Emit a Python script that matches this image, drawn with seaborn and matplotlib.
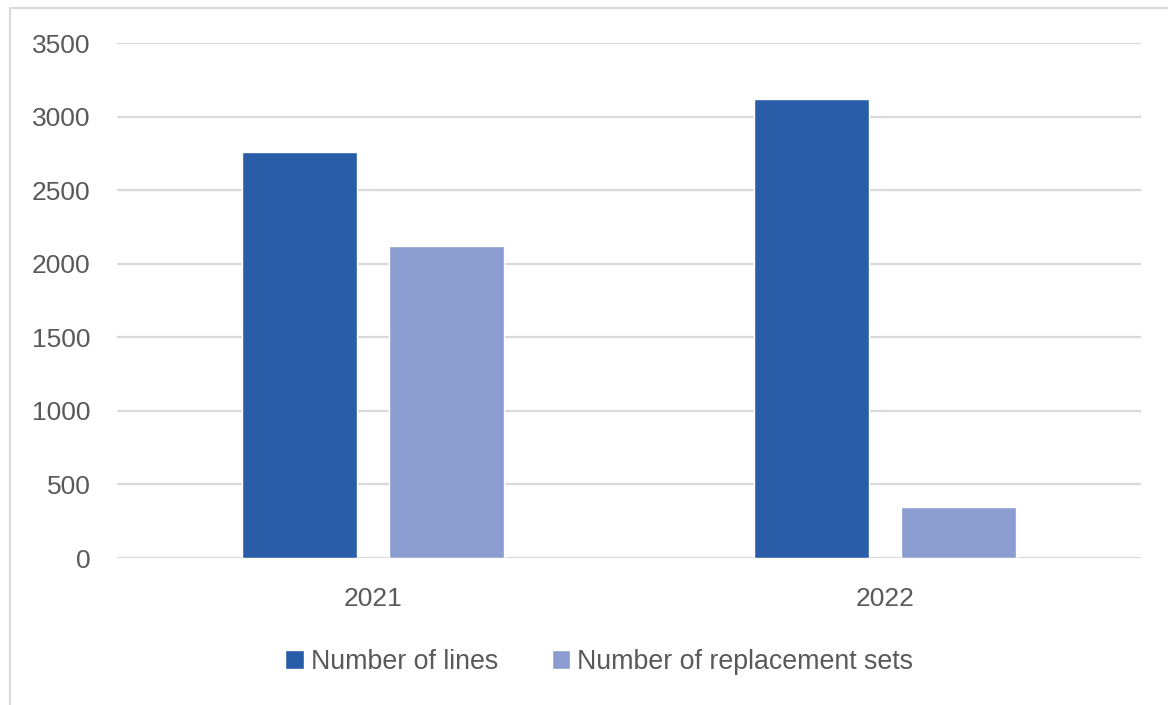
import matplotlib.pyplot as plt
import matplotlib.lines as mlines
import pandas as pd
import seaborn as sns

years = ['2021', '2022']
lines_count = [2760, 3120]  # Number of lines
replacement_sets = [2120, 350]  # Number of replacement sets
series_names = ['Number of lines', 'Number of replacement sets']
colors = ['#2a5da8', '#8b9dd0']
y_ticks = [0, 500, 1000, 1500, 2000, 2500, 3000, 3500]

df = pd.DataFrame({
    'year': years * 2,
    'value': lines_count + replacement_sets,
    'series': [series_names[0]] * 2 + [series_names[1]] * 2,
})

sns.set_style('white')
plt.rcParams['font.family'] = ['Liberation Sans', 'DejaVu Sans']
text_color = '#595959'
grid_color = '#d9d9d9'

fig = plt.figure(figsize=(11.68, 7.05), dpi=100)
ax = fig.add_axes([0.1002, 0.2085, 0.8767, 0.7301])

sns.barplot(data=df, x='year', y='value', hue='series', palette=colors,
            width=0.572, gap=0.215, saturation=1, ax=ax)

ax.set_ylim(0, 3500)
ax.set_xlim(-0.5, 1.5)
ax.set_yticks(y_ticks)
ax.yaxis.grid(True, color=grid_color, linewidth=1.6)
ax.set_axisbelow(True)
for s in ax.spines.values():
    s.set_visible(False)
ax.tick_params(axis='y', length=0, pad=19, labelsize=19, labelcolor=text_color)
ax.tick_params(axis='x', length=0, pad=21, labelsize=19, labelcolor=text_color)
ax.set_xlabel('')
ax.set_ylabel('')

# legend below the plot
handles, labels = ax.get_legend_handles_labels()
ax.get_legend().remove()
leg = fig.legend(handles, labels, loc='center', bbox_to_anchor=(0.513, 0.061),
                 ncol=2, frameon=False, fontsize=19.3, handlelength=0.7,
                 handleheight=0.7, handletextpad=0.25, columnspacing=2.0)
for t in leg.get_texts():
    t.set_color(text_color)

# light outer border (top and left visible)
fig.add_artist(mlines.Line2D([10 / 1168, 10 / 1168], [0, 1 - 8 / 705],
                             transform=fig.transFigure, color=grid_color, lw=1.5))
fig.add_artist(mlines.Line2D([10 / 1168, 1], [1 - 8 / 705, 1 - 8 / 705],
                             transform=fig.transFigure, color=grid_color, lw=1.5))

fig.savefig('out.png', dpi=100)
